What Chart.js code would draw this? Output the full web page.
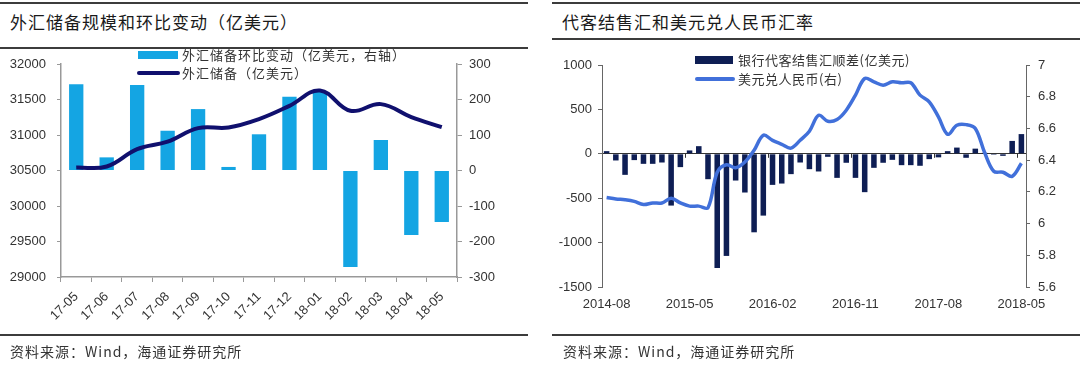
<!DOCTYPE html>
<html>
<head>
<meta charset="utf-8">
<script src="https://cdn.jsdelivr.net/npm/chart.js@4.4.0/dist/chart.umd.min.js"></script>
<style>
  body { margin: 0; background: #fff; width: 1080px; height: 367px; position: relative; overflow: hidden;
         font-family: 'Noto Sans CJK SC', sans-serif; }
  .rule { position: absolute; height: 2px; background: #3c3c3c; }
  .title { position: absolute; top: 11px; font-size: 17px; letter-spacing: 1px; color: #1a1a1a; line-height: 22px; }
  .src { position: absolute; top: 342px; font-size: 14px; letter-spacing: 1px; color: #333; line-height: 18px; }
  .lg { position: absolute; font-size: 13px; color: #333; line-height: 16px; white-space: nowrap; }
  .sw { position: absolute; }
  canvas { position: absolute; top: 0; }
</style>
</head>
<body>
<!-- left panel -->
<div class="rule" style="left:0;width:528px;top:2px"></div>
<div class="title" style="left:10px">外汇储备规模和环比变动（亿美元）</div>
<div class="rule" style="left:0;width:528px;top:47px"></div>
<canvas id="left" width="540" height="367" style="left:0"></canvas>
<div class="sw" style="left:138px;top:51px;width:40px;height:8px;background:#14a5e3"></div>
<div class="lg" style="left:182px;top:47px;letter-spacing:1px">外汇储备环比变动（亿美元，右轴）</div>
<div class="sw" style="left:137px;top:71px;width:43px;height:4px;border-radius:2px;background:#10106e"></div>
<div class="lg" style="left:182px;top:65px;letter-spacing:1px">外汇储备（亿美元）</div>
<div class="rule" style="left:0;width:528px;top:334px"></div>
<div class="src" style="left:10px">资料来源：Wind，海通证券研究所</div>

<!-- right panel -->
<div class="rule" style="left:552px;width:528px;top:2px"></div>
<div class="title" style="left:562px">代客结售汇和美元兑人民币汇率</div>
<div class="rule" style="left:552px;width:528px;top:38px"></div>
<canvas id="right" width="540" height="367" style="left:540px"></canvas>
<div class="sw" style="left:695px;top:56px;width:38px;height:8px;background:#0e1e54"></div>
<div class="lg" style="left:738px;top:52px;letter-spacing:0.5px">银行代客结售汇顺差(亿美元)</div>
<div class="sw" style="left:695px;top:77px;width:40px;height:4px;border-radius:2px;background:#4170da"></div>
<div class="lg" style="left:738px;top:71px;letter-spacing:0.5px">美元兑人民币(右)</div>
<div class="rule" style="left:552px;width:528px;top:334px"></div>
<div class="src" style="left:563px">资料来源：Wind，海通证券研究所</div>

<script>
// left chart: reserves and month-on-month change
const months = ['17-05', '17-06', '17-07', '17-08', '17-09', '17-10', '17-11',
                '17-12', '18-01', '18-02', '18-03', '18-04', '18-05'];
const reserveChange = [243, 37, 241, 112, 173, 10, 102, 208, 224, -272, 86, -182, -145];
const reserves = [30542, 30556, 30801, 30908, 31097, 31106, 31224, 31411, 31627, 31341, 31435, 31252, 31111];

// right chart: bank FX settlement surplus and USD/CNY
const fxMonths = [
  '2014-08', '2014-09', '2014-10', '2014-11', '2014-12',
  '2015-01', '2015-02', '2015-03', '2015-04', '2015-05', '2015-06',
  '2015-07', '2015-08', '2015-09', '2015-10', '2015-11', '2015-12',
  '2016-01', '2016-02', '2016-03', '2016-04', '2016-05', '2016-06',
  '2016-07', '2016-08', '2016-09', '2016-10', '2016-11', '2016-12',
  '2017-01', '2017-02', '2017-03', '2017-04', '2017-05', '2017-06',
  '2017-07', '2017-08', '2017-09', '2017-10', '2017-11', '2017-12',
  '2018-01', '2018-02', '2018-03', '2018-04', '2018-05'
];
const fxNet = [30, -75, -237, -71, -113, -113, -98, -583, -150, 38, 86, -286,
               -1286, -1150, -301, -436, -884, -696, -350, -335, -229, -98, -173, -199,
               -34, -271, -101, -271, -432, -158, -101, -68, -128, -128, -135, -60,
               -40, 30, 70, -45, 58, 11, -11, -23, 145, 222];
const usdCny = [6.164, 6.155, 6.15, 6.14, 6.12, 6.13, 6.13, 6.16, 6.13, 6.11, 6.11, 6.10,
                6.324, 6.371, 6.352, 6.388, 6.462, 6.557, 6.525, 6.50, 6.476, 6.525, 6.582, 6.683,
                6.645, 6.656, 6.715, 6.81, 6.915, 6.894, 6.873, 6.894, 6.888, 6.888, 6.81, 6.768,
                6.673, 6.563, 6.62, 6.624, 6.60, 6.45, 6.33, 6.324, 6.298, 6.38];

const tickFont = { family: "'Liberation Sans', Arial, sans-serif", size: 13 };
const tickColor = '#333';
const plain = v => String(+Number(v).toFixed(1));

new Chart(document.getElementById('left'), {
  data: {
    labels: months,
    datasets: [
      { type: 'line', label: '外汇储备（亿美元）', data: reserves, yAxisID: 'y',
        borderColor: '#10106e', borderWidth: 4, pointRadius: 0, tension: 0.4, order: 0 },
      { type: 'bar', label: '外汇储备环比变动（亿美元，右轴）', data: reserveChange, yAxisID: 'y2',
        backgroundColor: '#14a5e3', barPercentage: 0.47, categoryPercentage: 1, order: 1 }
    ]
  },
  options: {
    responsive: false, animation: false, events: [],
    layout: { padding: { top: 64 } },
    plugins: { legend: { display: false }, tooltip: { enabled: false } },
    scales: {
      x: {
        grid: { drawOnChartArea: false, tickLength: 5, color: '#999' },
        border: { color: '#999', width: 1.5 },
        ticks: { font: tickFont, color: tickColor, minRotation: 45, maxRotation: 45, autoSkip: false, padding: 7 },
        afterFit: s => { s.height = 90; }
      },
      y: {
        position: 'left', min: 29000, max: 32000,
        grid: { drawOnChartArea: false, tickLength: 4, color: '#999' },
        border: { color: '#999', width: 1.5 },
        ticks: { stepSize: 500, font: tickFont, color: tickColor, padding: 11, callback: plain },
        afterFit: s => { s.width = 61; }
      },
      y2: {
        position: 'right', min: -300, max: 300,
        grid: { drawOnChartArea: false, tickLength: 5, color: '#999' },
        border: { color: '#999', width: 1.5 },
        ticks: { stepSize: 100, font: tickFont, color: tickColor, padding: 7, callback: plain },
        afterFit: s => { s.width = 83; }
      }
    }
  }
});

// small tick marks on the zero line before each labelled month
const zeroTicks = {
  id: 'zeroTicks',
  afterDraw(chart) {
    const x = chart.scales.x, y = chart.scales.y, ctx = chart.ctx;
    const y0 = y.getPixelForValue(0);
    const half = x.width / fxMonths.length / 2;
    ctx.save();
    ctx.strokeStyle = '#333';
    ctx.lineWidth = 1;
    fxMonths.forEach((m, i) => {
      if (i % 9 !== 0 || i === 0) return;
      const px = Math.round(x.getPixelForValue(i) - half) + 0.5;
      ctx.beginPath();
      ctx.moveTo(px, y0);
      ctx.lineTo(px, y0 + 4);
      ctx.stroke();
    });
    ctx.restore();
  }
};

new Chart(document.getElementById('right'), {
  data: {
    labels: fxMonths,
    datasets: [
      { type: 'line', label: '美元兑人民币(右)', data: usdCny, yAxisID: 'y2',
        borderColor: '#4170da', borderWidth: 3.5, pointRadius: 0, tension: 0.35, order: 0 },
      { type: 'bar', label: '银行代客结售汇顺差(亿美元)', data: fxNet, yAxisID: 'y',
        backgroundColor: '#0e1e54', barPercentage: 0.6, categoryPercentage: 1, order: 1 }
    ]
  },
  options: {
    responsive: false, animation: false, events: [],
    layout: { padding: { top: 65 } },
    plugins: { legend: { display: false }, tooltip: { enabled: false } },
    scales: {
      x: {
        grid: { display: false, drawTicks: false },
        border: { display: false },
        ticks: { font: tickFont, color: tickColor, autoSkip: false, maxRotation: 0, padding: 10,
                 callback: (v, i) => (i % 9 === 0 ? fxMonths[i] : '') },
        afterFit: s => { s.height = 80; }
      },
      y: {
        position: 'left', min: -1500, max: 1000,
        grid: { color: c => (c.tick && c.tick.value === 0 ? '#333' : 'rgba(0,0,0,0)'),
                tickColor: '#666', tickLength: 4 },
        border: { color: '#666' },
        ticks: { stepSize: 500, font: tickFont, color: tickColor, padding: 6, callback: plain },
        afterFit: s => { s.width = 62; }
      },
      y2: {
        position: 'right', min: 5.6, max: 7,
        grid: { drawOnChartArea: false, tickLength: 4, color: '#666' },
        border: { color: '#666' },
        ticks: { stepSize: 0.2, font: tickFont, color: tickColor, padding: 8, callback: plain },
        afterFit: s => { s.width = 54; }
      }
    }
  },
  plugins: [zeroTicks]
});
</script>
</body>
</html>
